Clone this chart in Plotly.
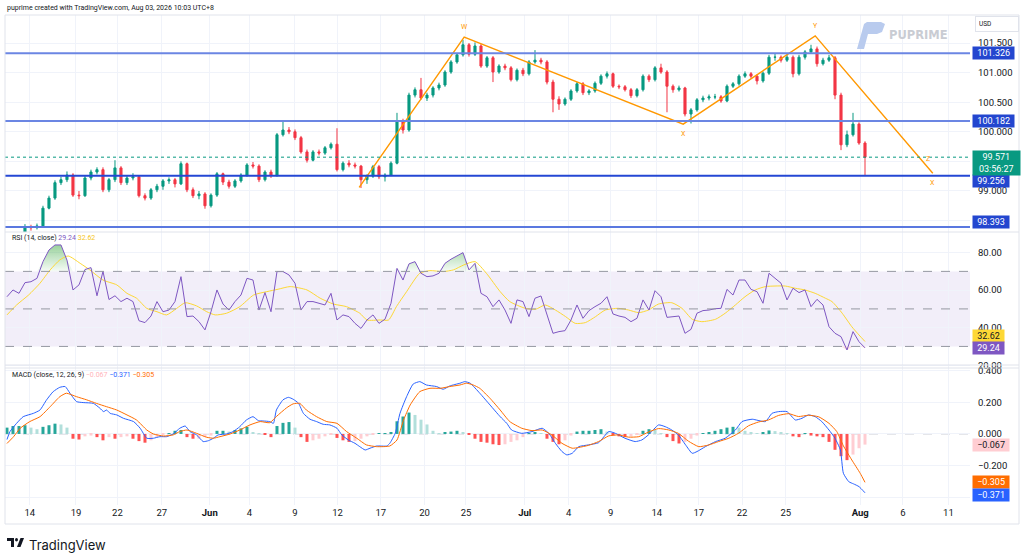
import numpy as np
import plotly.graph_objects as go

# ---- values (4h bars, bar 0 is at the left edge) ----
opens = [98.15, 98.18, 98.22, 98.27, 98.39, 98.38, 98.41, 98.71, 98.88, 99.14,
         99.19, 99.27, 98.93, 98.92, 99.22, 99.32, 99.36, 99.02, 99.19, 99.39,
         99.14, 99.22, 99.24, 98.92, 98.88, 99.02, 99.08, 99.17, 99.19, 99.12,
         99.46, 99.02, 98.92, 98.95, 98.75, 98.93, 99.29, 99.15, 99.08, 99.17,
         99.27, 99.44, 99.42, 99.19, 99.32, 99.27, 99.95, 100.03, 100.00, 99.90,
         99.66, 99.52, 99.66, 99.64, 99.73, 99.79, 99.36, 99.47, 99.44, 99.42,
         99.19, 99.25, 99.41, 99.24, 99.27, 99.47, 100.18, 100.03, 100.62, 100.71,
         100.57, 100.62, 100.74, 100.79, 101.01, 101.18, 101.30, 101.47, 101.31, 101.45,
         101.11, 101.25, 101.01, 101.11, 101.08, 100.88, 101.04, 100.98, 101.18, 101.21,
         101.18, 100.84, 100.55, 100.47, 100.55, 100.69, 100.81, 100.66, 100.69, 100.82,
         100.94, 100.98, 100.77, 100.76, 100.71, 100.61, 100.71, 100.94, 100.88, 101.08,
         101.01, 100.77, 100.71, 100.74, 100.30, 100.37, 100.54, 100.57, 100.59, 100.59,
         100.52, 100.77, 100.81, 100.94, 100.98, 100.94, 100.86, 100.99, 101.26, 101.26,
         101.21, 101.26, 100.98, 101.26, 101.35, 101.40, 101.15, 101.21, 101.25, 100.62,
         99.78, 99.95, 100.13, 99.81]
highs = [98.22, 98.26, 98.29, 98.44, 98.43, 98.45, 98.75, 98.92, 99.18, 99.24,
         99.33, 99.30, 99.00, 99.26, 99.36, 99.40, 99.40, 99.22, 99.52, 99.42,
         99.26, 99.30, 99.27, 98.96, 99.05, 99.12, 99.20, 99.23, 99.22, 99.50,
         99.48, 99.06, 99.00, 98.98, 98.96, 99.32, 99.31, 99.19, 99.20, 99.30,
         99.47, 99.49, 99.45, 99.35, 99.36, 99.98, 100.17, 100.08, 100.04, 99.93,
         99.70, 99.69, 99.70, 99.76, 99.82, 100.06, 99.50, 99.52, 99.48, 99.44,
         99.28, 99.44, 99.44, 99.30, 99.50, 100.32, 100.22, 100.66, 100.75, 100.91,
         100.66, 100.77, 100.83, 101.04, 101.21, 101.33, 101.55, 101.50, 101.51, 101.48,
         101.28, 101.28, 101.14, 101.15, 101.11, 101.07, 101.08, 101.21, 101.38, 101.25,
         101.21, 100.88, 100.60, 100.58, 100.72, 100.84, 100.84, 100.72, 100.85, 100.97,
         101.02, 101.00, 100.80, 100.79, 100.74, 100.74, 100.97, 100.97, 101.11, 101.15,
         101.04, 100.80, 100.78, 100.76, 100.40, 100.57, 100.61, 100.63, 100.64, 100.62,
         100.80, 100.84, 100.97, 101.02, 101.01, 100.97, 101.02, 101.30, 101.33, 101.29,
         101.31, 101.29, 101.30, 101.38, 101.47, 101.44, 101.25, 101.30, 101.28, 100.66,
         100.02, 100.32, 100.16, 99.84]
lows = [98.10, 98.14, 98.18, 98.25, 98.33, 98.35, 98.40, 98.69, 98.85, 99.10,
        99.15, 98.90, 98.86, 98.90, 99.18, 99.28, 98.98, 98.98, 99.15, 99.10,
        99.10, 99.18, 98.89, 98.84, 98.85, 98.98, 99.02, 99.12, 99.06, 99.10,
        98.98, 98.88, 98.86, 98.70, 98.72, 98.90, 99.10, 99.04, 99.05, 99.14,
        99.24, 99.38, 99.15, 99.16, 99.22, 99.24, 99.92, 99.96, 99.86, 99.63,
        99.48, 99.50, 99.60, 99.61, 99.70, 99.33, 99.33, 99.40, 99.38, 99.05,
        99.12, 99.22, 99.20, 99.16, 99.25, 99.45, 99.97, 100.00, 100.58, 100.54,
        100.52, 100.58, 100.70, 100.76, 100.98, 101.15, 101.27, 101.27, 101.28, 101.08,
        101.08, 100.84, 100.98, 101.04, 100.85, 100.85, 100.94, 100.95, 101.15, 101.14,
        100.80, 100.33, 100.37, 100.44, 100.52, 100.66, 100.62, 100.62, 100.66, 100.79,
        100.90, 100.74, 100.72, 100.68, 100.57, 100.58, 100.68, 100.84, 100.85, 100.98,
        100.33, 100.66, 100.68, 100.26, 100.14, 100.34, 100.50, 100.53, 100.55, 100.49,
        100.50, 100.74, 100.78, 100.91, 100.90, 100.80, 100.83, 100.96, 101.20, 101.17,
        101.18, 100.92, 100.95, 101.22, 101.32, 101.10, 101.12, 101.18, 100.55, 99.69,
        99.74, 99.92, 99.78, 99.27]
closes = [98.18, 98.22, 98.27, 98.39, 98.38, 98.41, 98.71, 98.88, 99.14, 99.19,
          99.27, 98.93, 98.92, 99.22, 99.32, 99.36, 99.02, 99.19, 99.39, 99.14,
          99.22, 99.24, 98.92, 98.88, 99.02, 99.08, 99.17, 99.19, 99.12, 99.46,
          99.02, 98.92, 98.95, 98.75, 98.93, 99.29, 99.15, 99.08, 99.17, 99.27,
          99.44, 99.42, 99.19, 99.32, 99.27, 99.95, 100.03, 100.00, 99.90, 99.66,
          99.52, 99.66, 99.64, 99.73, 99.79, 99.36, 99.47, 99.44, 99.42, 99.19,
          99.25, 99.41, 99.24, 99.27, 99.47, 100.18, 100.03, 100.62, 100.71, 100.57,
          100.62, 100.74, 100.79, 101.01, 101.18, 101.30, 101.47, 101.31, 101.45, 101.11,
          101.25, 101.01, 101.11, 101.08, 100.88, 101.04, 100.98, 101.18, 101.21, 101.18,
          100.84, 100.55, 100.47, 100.55, 100.69, 100.81, 100.66, 100.69, 100.82, 100.94,
          100.98, 100.77, 100.76, 100.71, 100.61, 100.71, 100.94, 100.88, 101.08, 101.01,
          100.77, 100.71, 100.74, 100.30, 100.37, 100.54, 100.57, 100.59, 100.59, 100.52,
          100.77, 100.81, 100.94, 100.98, 100.94, 100.86, 100.99, 101.26, 101.26, 101.21,
          101.26, 100.98, 101.26, 101.35, 101.40, 101.15, 101.21, 101.25, 100.62, 99.78,
          99.95, 100.13, 99.81, 99.571]

rsi = [56.5, 60.1, 58.3, 64.0, 64.5, 66.3, 75.2, 81.4, 84.1, 84.1,
       76.0, 60.1, 62.8, 71.0, 72.0, 57.0, 70.0, 55.0, 57.0, 53.9,
       55.7, 53.9, 43.7, 42.7, 46.2, 53.9, 48.5, 49.4, 53.9, 67.2,
       45.9, 46.2, 43.2, 38.8, 48.5, 60.1, 52.6, 49.4, 53.9, 57.4,
       66.3, 65.4, 49.4, 58.7, 48.5, 69.9, 69.9, 68.1, 63.7, 49.4,
       53.9, 53.9, 53.0, 52.1, 58.3, 44.1, 46.8, 45.9, 42.3, 39.6,
       44.1, 46.8, 42.3, 44.5, 53.0, 71.6, 65.4, 74.0, 75.2, 69.0,
       67.2, 67.6, 69.0, 74.3, 76.5, 78.2, 80.0, 70.8, 74.3, 58.3,
       56.5, 51.2, 54.8, 49.4, 42.3, 54.8, 53.9, 45.9, 55.7, 56.9,
       46.8, 37.0, 37.9, 38.4, 44.1, 52.1, 45.0, 49.1, 51.2, 53.0,
       56.5, 47.3, 46.2, 45.5, 43.2, 45.0, 54.8, 49.4, 59.7, 56.5,
       45.5, 45.9, 46.2, 37.0, 39.1, 47.7, 49.1, 49.4, 50.1, 50.3,
       60.4, 57.4, 65.4, 65.4, 60.4, 59.2, 53.0, 69.0, 66.3, 63.7,
       54.8, 61.0, 58.7, 60.1, 51.2, 55.1, 52.1, 40.5, 37.0, 35.2,
       28.1, 37.9, 32.5, 29.24]

# (bar, value) points of the smooth lines
rsi_ma_pts = [(0, 46.8), (1.6, 52.1), (3.6, 57.4), (5.5, 63.7), (7.2, 70.8), (8.8, 76.1),
              (10.2, 78.2), (12.2, 74.3), (13.8, 70.8), (16, 65.4), (18.3, 62.8), (20, 58.3),
              (21.6, 55.7), (23.3, 50.3), (25, 48.5), (26.6, 46.8), (28.3, 50.3), (29.7, 53.3),
              (31.6, 51.6), (33.3, 48.5), (34.7, 46.8), (36.6, 47.7), (38.8, 51.2), (41.1, 57.4),
              (43.3, 59.2), (45.2, 60.5), (47.2, 61.9), (50, 60.1), (52.2, 55.7), (54.4, 52.6),
              (56.6, 51.2), (58.8, 47.7), (60, 44.1), (62.2, 44.1), (63.6, 44.1), (64.9, 51.2),
              (66.6, 59.2), (68.8, 69.0), (70.5, 70.4), (72.7, 69.9), (74.4, 70.8), (76.1, 73.4),
              (78, 75.2), (79.9, 69.0), (82.2, 59.2), (83.8, 53.9), (86.4, 50.3), (88.1, 49.8),
              (89.7, 52.1), (91.4, 49.4), (93.1, 45.9), (94.7, 42.3), (96.4, 42.7), (98.1, 45.9),
              (99.7, 49.4), (101.9, 50.3), (103.6, 49.4), (105.3, 48.0), (106.9, 49.4), (108.6, 52.6),
              (110.8, 53.3), (112.5, 50.3), (114.2, 44.5), (115.8, 43.2), (118.1, 44.5), (119.7, 47.7),
              (121.4, 52.1), (123, 56.5), (124.7, 60.1), (126.4, 61.9), (128, 62.2), (129.7, 62.2),
              (131.4, 61.0), (133, 60.1), (134.7, 58.3), (136.4, 55.7), (137.5, 53.9), (139.2, 47.7),
              (140.8, 40.5), (142, 36.1), (143, 32.62)]

macd_pts = [(0, -0.035), (0.5, 0.015), (1.6, 0.067), (2.7, 0.109), (4.4, 0.130), (5.5, 0.151),
            (6.6, 0.215), (7.7, 0.267), (8.8, 0.294), (9.7, 0.299), (10.5, 0.257), (11.6, 0.204),
            (12.7, 0.198), (14.4, 0.193), (15.5, 0.162), (16.1, 0.141), (16.6, 0.151), (17.2, 0.130),
            (18.3, 0.120), (19.4, 0.099), (21.1, 0.078), (22.2, 0.036), (23.3, -0.027), (24.4, -0.027),
            (25.5, -0.017), (26.6, -0.017), (27.7, 0.0), (28.8, 0.036), (29.7, 0.050), (30.5, 0.015),
            (31.6, -0.006), (32.7, -0.048), (33.6, -0.042), (34.4, -0.027), (35.2, -0.006), (36.6, 0.0),
            (37.7, 0.015), (38.8, 0.046), (39.9, 0.088), (41, 0.109), (41.9, 0.084), (42.7, 0.082),
            (43.8, 0.078), (44.4, 0.067), (44.9, 0.151), (46, 0.215), (46.9, 0.231), (47.7, 0.219),
            (48.6, 0.193), (49.4, 0.130), (50.5, 0.093), (51.6, 0.078), (52.7, 0.061), (53.8, 0.057),
            (55, 0.036), (55.8, -0.006), (56.9, -0.038), (58, -0.059), (58.8, -0.080), (59.7, -0.101),
            (60.5, -0.090), (61.6, -0.076), (63.3, -0.076), (63.8, -0.059), (64.7, 0.004), (65.5, 0.130),
            (66.6, 0.235), (67.7, 0.315), (68.8, 0.330), (69.9, 0.309), (71.6, 0.299), (72.7, 0.282),
            (73.8, 0.303), (75.5, 0.320), (76.3, 0.330), (77.2, 0.320), (78.8, 0.257), (80.5, 0.183),
            (82.2, 0.109), (83.3, 0.067), (84.1, 0.025), (85.8, 0.004), (87.5, 0.015), (89.2, 0.036),
            (90.3, 0.004), (91.4, -0.059), (92.5, -0.111), (93.3, -0.132), (94.2, -0.122), (95.3, -0.080),
            (96.9, -0.069), (98.6, -0.055), (100.3, 0.015), (101.4, 0.004), (103, -0.027), (104.7, -0.048),
            (105.8, -0.038), (106.9, -0.006), (108.6, 0.057), (109.7, 0.046), (110.8, 0.025), (111.9, -0.006),
            (113.1, -0.069), (114.2, -0.122), (115, -0.111), (116.4, -0.080), (118.1, -0.048), (119.7, -0.027),
            (121.4, 0.025), (122.5, 0.078), (124.2, 0.093), (126.4, 0.078), (127.5, 0.130), (128.6, 0.141),
            (130, 0.141), (131.4, 0.088), (132.5, 0.099), (133.6, 0.120), (134.7, 0.109), (135.8, 0.078),
            (137, 0.025), (138, -0.027), (138.9, -0.101), (139.4, -0.248), (140.3, -0.301), (141.1, -0.315),
            (142, -0.332), (143, -0.371)]

signal_pts = [(0, -0.06), (1.1, -0.017), (2.2, 0.036), (3.8, 0.078), (5.5, 0.109), (7.2, 0.172),
              (8.8, 0.235), (9.9, 0.257), (11.6, 0.235), (13.3, 0.215), (14.9, 0.193), (16.6, 0.172),
              (18.3, 0.151), (20, 0.120), (21.6, 0.088), (23.3, 0.025), (24.4, 0.0), (26.1, -0.013),
              (27.7, -0.006), (28.8, 0.015), (30, 0.025), (31.6, 0.004), (33.3, -0.021), (34.4, -0.027),
              (35.5, -0.017), (37.2, 0.0), (38.8, 0.025), (40.5, 0.057), (42.2, 0.078), (43.8, 0.071),
              (44.9, 0.110), (46.6, 0.165), (47.7, 0.190), (48.8, 0.193), (49.9, 0.151), (51.6, 0.109),
              (53.3, 0.078), (55, 0.067), (56.6, 0.015), (58.3, -0.027), (59.9, -0.069), (61.6, -0.080),
              (63.8, -0.076), (65, -0.038), (66.1, 0.088), (67.2, 0.183), (68.8, 0.267), (70.5, 0.288),
              (72.2, 0.288), (73.8, 0.299), (75.5, 0.309), (76.6, 0.320), (77.7, 0.309), (78.8, 0.288),
              (80.5, 0.225), (82.2, 0.151), (83.8, 0.078), (85.8, 0.036), (87.5, 0.021), (89.2, 0.025),
              (90.8, -0.006), (92.5, -0.059), (94.2, -0.090), (95.3, -0.085), (96.9, -0.072), (98.6, -0.048),
              (100.3, -0.012), (101.9, -0.006), (103.6, -0.020), (105.3, -0.017), (106.9, 0.012), (108.6, 0.034),
              (110.3, 0.025), (111.9, 0.004), (113.6, -0.046), (115.3, -0.080), (116.9, -0.070), (118.6, -0.048),
              (120.3, -0.027), (121.9, 0.004), (123.6, 0.052), (125.3, 0.076), (126.9, 0.088), (128.6, 0.117),
              (130.3, 0.128), (131.9, 0.110), (133.6, 0.118), (135.3, 0.108), (137, 0.067), (138.3, 0.015),
              (139.4, -0.075), (140.8, -0.164), (142.2, -0.248), (143, -0.305)]

hist = [0.04, 0.05, 0.05, 0.055, 0.04, 0.03, 0.045, 0.055, 0.065, 0.06,
        0.04, -0.03, -0.035, -0.015, -0.01, -0.02, -0.04, -0.02, -0.03, -0.02,
        -0.015, -0.03, -0.045, -0.055, -0.04, -0.02, -0.005, 0.003, 0.02, 0.025,
        -0.02, -0.03, -0.03, -0.02, -0.01, 0.02, 0.02, 0.015, 0.025, 0.035,
        0.045, 0.01, 0.004, -0.005, -0.02, 0.05, 0.07, 0.075, 0.04, -0.02,
        -0.05, -0.04, -0.03, -0.015, -0.005, -0.025, -0.04, -0.05, -0.045, -0.03,
        -0.015, -0.005, 0.003, 0.005, 0.01, 0.08, 0.11, 0.135, 0.12, 0.09,
        0.06, 0.02, 0.005, 0.012, 0.015, 0.02, 0.01, -0.005, -0.03, -0.05,
        -0.055, -0.065, -0.07, -0.065, -0.05, -0.04, -0.02, 0.005, 0.01, 0.005,
        -0.03, -0.05, -0.065, -0.04, -0.01, 0.015, 0.02, 0.02, 0.025, 0.03,
        0.015, -0.01, -0.015, -0.02, -0.015, -0.005, 0.02, 0.03, 0.025, 0.005,
        -0.02, -0.045, -0.06, -0.05, -0.03, -0.01, 0.005, 0.01, 0.02, 0.03,
        0.04, 0.045, 0.04, 0.02, 0.01, 0.005, 0.012, 0.022, 0.018, 0.008,
        0.005, -0.015, -0.02, 0.005, -0.01, -0.015, -0.02, -0.05, -0.1, -0.14,
        -0.165, -0.13, -0.09, -0.067]

levels = [101.326, 100.182, 99.256, 98.393]
last_price = 99.571
countdown = "03:56:27"
rsi_last, rsi_ma_last = 29.24, 32.62
macd_last, signal_last, hist_last = -0.371, -0.305, -0.067

# zigzag (W-X-Y-X) drawn on the chart
zz_bar = [58.7, 76.2, 112.7, 134.7, 154.3]
zz_price = [99.06, 101.60, 100.13, 101.62, 99.30]
zz_labels = ["W", "X", "Y", "Z", "X"]
zz_label_bar = [76.2, 112.7, 134.7, 153.5, 154.3]
zz_label_price = [101.77, 99.96, 101.79, 99.54, 99.13]

tick_bar = [3.8, 11.5, 18.4, 25.8, 33.8, 40.4, 48.0, 55.1, 62.3, 69.6, 76.5,
            86.3, 93.6, 100.6, 108.3, 115.3, 122.5, 129.8, 142.2, 149.3, 156.9]
tick_text = ["14", "19", "22", "27", "<b>Jun</b>", "4", "9", "12", "17", "20", "25",
             "<b>Jul</b>", "4", "9", "14", "17", "22", "25", "<b>Aug</b>", "6", "11"]

# ---- layout helpers (pixel -> paper) ----
W, H = 1024, 558
ML, MR, MT, MB = 5, 54, 15, 53
PW, PH = W - ML - MR, H - MT - MB


def fx(px):
    return (px - ML) / PW


def fy(py):
    return (H - MB - py) / PH


UP, DN = "#089981", "#f23645"
GRID = "#f0f3fa"
TXT = "#131722"
FONT = "Roboto"
bar = np.arange(len(closes))

fig = go.Figure()

# price pane
fig.add_trace(go.Candlestick(
    x=bar, open=opens, high=highs, low=lows, close=closes,
    increasing=dict(line=dict(color=UP, width=1), fillcolor=UP),
    decreasing=dict(line=dict(color=DN, width=1), fillcolor=DN),
    whiskerwidth=0, hoverinfo="skip", xaxis="x", yaxis="y"))
fig.add_trace(go.Scatter(x=zz_bar, y=zz_price, mode="lines",
                         line=dict(color="#ff9800", width=1.4), xaxis="x", yaxis="y"))

# RSI pane (overbought / oversold fills fade towards the 70 / 30 lines)
rsi_arr = np.array(rsi)
fig.add_trace(go.Scatter(x=bar, y=np.full(len(bar), 70.0), mode="lines",
                         line=dict(width=0), xaxis="x2", yaxis="y2"))
fig.add_trace(go.Scatter(x=bar, y=np.maximum(rsi_arr, 70), mode="lines", line=dict(width=0),
                         fill="tonexty",
                         fillgradient=dict(type="vertical", start=70, stop=85,
                                           colorscale=[[0, "rgba(76,175,80,0.05)"],
                                                       [1, "rgba(76,175,80,0.6)"]]),
                         xaxis="x2", yaxis="y2"))
fig.add_trace(go.Scatter(x=bar, y=np.full(len(bar), 30.0), mode="lines",
                         line=dict(width=0), xaxis="x2", yaxis="y2"))
fig.add_trace(go.Scatter(x=bar, y=np.minimum(rsi_arr, 30), mode="lines", line=dict(width=0),
                         fill="tonexty", fillcolor="rgba(242,54,69,0.15)", xaxis="x2", yaxis="y2"))
fig.add_trace(go.Scatter(x=[p[0] for p in rsi_ma_pts], y=[p[1] for p in rsi_ma_pts], mode="lines",
                         line=dict(color="#fdd835", width=1, shape="spline", smoothing=0.6),
                         xaxis="x2", yaxis="y2"))
fig.add_trace(go.Scatter(x=bar, y=rsi, mode="lines", line=dict(color="#7e57c2", width=1),
                         xaxis="x2", yaxis="y2"))

# MACD pane
hist_colors = []
for k, h in enumerate(hist):
    prev = hist[k - 1] if k else h
    if h >= 0:
        hist_colors.append("#26a69a" if h >= prev else "#b2dfdb")
    else:
        hist_colors.append("#ffcdd2" if h >= prev else "#ff5252")
fig.add_trace(go.Bar(x=bar, y=hist, marker=dict(color=hist_colors, line=dict(width=0)),
                     width=0.5, xaxis="x3", yaxis="y3"))
fig.add_trace(go.Scatter(x=[p[0] for p in macd_pts], y=[p[1] for p in macd_pts], mode="lines",
                         line=dict(color="#2962ff", width=1, shape="spline", smoothing=0.5),
                         xaxis="x3", yaxis="y3"))
fig.add_trace(go.Scatter(x=[p[0] for p in signal_pts], y=[p[1] for p in signal_pts], mode="lines",
                         line=dict(color="#ff6d00", width=1, shape="spline", smoothing=0.5),
                         xaxis="x3", yaxis="y3"))

# ---- shapes ----
shapes = []
level_line = ["#6b86e3", "#6b86e3", "#2447d4", "#5a78e0"]
for lv, col in zip(levels, level_line):
    shapes.append(dict(type="line", xref="paper", yref="y", x0=0, x1=1, y0=lv, y1=lv,
                       line=dict(color=col, width=2)))
shapes.append(dict(type="line", xref="paper", yref="y", x0=0, x1=1, y0=last_price, y1=last_price,
                   line=dict(color=UP, width=1, dash="dot")))
shapes.append(dict(type="rect", xref="paper", yref="y2", x0=0, x1=1, y0=30, y1=70,
                   fillcolor="rgba(126,87,194,0.10)", line=dict(width=0), layer="below"))
for lv in (70, 50, 30):
    shapes.append(dict(type="line", xref="paper", yref="y2", x0=0, x1=1, y0=lv, y1=lv,
                       line=dict(color="#9598a1", width=1, dash="dash")))
shapes.append(dict(type="line", xref="paper", yref="y3", x0=0, x1=1, y0=0, y1=0,
                   line=dict(color="#c5c8d0", width=1, dash="dash"), layer="below"))
# pane separators and border
for py in (232, 365, 368):
    shapes.append(dict(type="line", xref="paper", yref="paper", x0=fx(5), x1=fx(1019),
                       y0=fy(py), y1=fy(py), line=dict(color="#e0e3eb", width=1)))
shapes.append(dict(type="rect", xref="paper", yref="paper", x0=fx(5), x1=fx(1019),
                   y0=fy(524), y1=fy(15), line=dict(color="#e0e3eb", width=1)))
# PUPRIME watermark logo
logo = [(857, 49), (864, 24), (867, 22), (881, 22), (885, 24), (882, 32), (877, 34), (868, 34), (864, 49)]
path = "M " + " L ".join(f"{fx(a):.5f} {fy(b):.5f}" for a, b in logo) + " Z"
shapes.append(dict(type="path", xref="paper", yref="paper", path=path,
                   fillcolor="#b9cbee", line=dict(width=0)))
# TradingView logo
shapes.append(dict(type="rect", xref="paper", yref="paper", x0=fx(7), x1=fx(14), y0=fy(541), y1=fy(538),
                   fillcolor=TXT, line=dict(width=0)))
shapes.append(dict(type="rect", xref="paper", yref="paper", x0=fx(11), x1=fx(14), y0=fy(547), y1=fy(538),
                   fillcolor=TXT, line=dict(width=0)))
shapes.append(dict(type="circle", xref="paper", yref="paper", x0=fx(15), x1=fx(18), y0=fy(541.5), y1=fy(538),
                   fillcolor=TXT, line=dict(width=0)))
tvp = [(17, 547), (20.5, 538), (24, 538), (20.5, 547)]
shapes.append(dict(type="path", xref="paper", yref="paper",
                   path="M " + " L ".join(f"{fx(a):.5f} {fy(b):.5f}" for a, b in tvp) + " Z",
                   fillcolor=TXT, line=dict(width=0)))

# ---- annotations ----
ann = []


def tag(y, yref, text, bg, fg="white", yanchor="middle", yshift=0, chars=None):
    n = chars if chars else len(text)
    ann.append(dict(x=1, xref="paper", y=y, yref=yref, xanchor="left", yanchor=yanchor,
                    xshift=2, yshift=yshift, text=text, showarrow=False, bgcolor=bg,
                    width=5.2 * n + 3, align="center", borderpad=1,
                    font=dict(color=fg, size=9, family=FONT)))


level_shift = [0, 0, -5.5, 5]
for lv, sh in zip(levels, level_shift):
    tag(lv, "y", f"{lv:.3f}", "#2346cf", yshift=sh)
tag(last_price, "y", f"{last_price:.3f}<br>{countdown}", UP, yanchor="top", yshift=7, chars=8)
tag(rsi_ma_last, "y2", f"{rsi_ma_last:.2f}", "#fdd835", fg=TXT, yshift=6)
tag(rsi_last, "y2", f"{rsi_last:.2f}", "#7e57c2")
tag(hist_last, "y3", f"{hist_last:.3f}".replace("-", "−"), "#ffcdd2", fg=TXT)
tag(signal_last, "y3", f"{signal_last:.3f}".replace("-", "−"), "#ff6d00")
tag(macd_last, "y3", f"{macd_last:.3f}".replace("-", "−"), "#2962ff", yshift=-2)

for t, xb, yp in zip(zz_labels, zz_label_bar, zz_label_price):
    ann.append(dict(x=xb, y=yp, xref="x", yref="y", text=t, showarrow=False,
                    font=dict(color="#ff9800", size=7, family=FONT)))

ann.append(dict(x=fx(5), y=fy(8), xref="paper", yref="paper", xanchor="left", yanchor="middle",
                text="puprime created with TradingView.com, Aug 03, 2026 10:03 UTC+8", showarrow=False,
                font=dict(color=TXT, size=7, family=FONT)))
ann.append(dict(x=fx(10), y=fy(238), xref="paper", yref="paper", xanchor="left", yanchor="middle",
                text=("RSI (14, close) <span style='color:#7e57c2'>%.2f</span> "
                      "<span style='color:#f5c518'>%.2f</span>" % (rsi_last, rsi_ma_last)),
                showarrow=False, font=dict(color=TXT, size=7, family=FONT)))
ann.append(dict(x=fx(10), y=fy(375), xref="paper", yref="paper", xanchor="left", yanchor="middle",
                text=("MACD (close, 12, 26, 9) <span style='color:#ffb3ba'>−0.067</span> "
                      "<span style='color:#2962ff'>−0.371</span> <span style='color:#ff6d00'>−0.305</span>"),
                showarrow=False, font=dict(color=TXT, size=7, family=FONT)))
ann.append(dict(x=fx(975), y=fy(24), xref="paper", yref="paper", xanchor="left", yanchor="middle",
                text="USD", showarrow=False, width=36, align="left", borderpad=3,
                bordercolor="#e0e3eb", borderwidth=1, font=dict(color=TXT, size=6.5, family=FONT)))
ann.append(dict(x=fx(887), y=fy(35), xref="paper", yref="paper", xanchor="left", yanchor="middle",
                text="<b>PUPRIME</b>", showarrow=False,
                font=dict(color="#c9ccd3", size=11.5, family="DejaVu Sans")))
ann.append(dict(x=fx(27), y=fy(545), xref="paper", yref="paper", xanchor="left", yanchor="middle",
                text="TradingView", showarrow=False, font=dict(color=TXT, size=13, family="Inter")))

xcommon = dict(range=[-0.33, 160.5], tickvals=tick_bar, ticktext=tick_text, showgrid=True,
               gridcolor=GRID, zeroline=False, showline=False, ticks="")
ycommon = dict(side="right", gridcolor=GRID, zeroline=False, showline=False, ticks="",
               ticklabelstandoff=7, tickfont=dict(size=9.5, color=TXT))

fig.update_layout(
    width=W, height=H, margin=dict(l=ML, r=MR, t=MT, b=MB),
    paper_bgcolor="white", plot_bgcolor="white", showlegend=False, hovermode=False,
    boxgap=0.5,
    font=dict(family=FONT, size=9.5, color=TXT),
    xaxis=dict(**xcommon, anchor="y", showticklabels=False, rangeslider=dict(visible=False)),
    xaxis2=dict(**xcommon, anchor="y2", matches="x", showticklabels=False),
    xaxis3=dict(**xcommon, anchor="y3", matches="x", showticklabels=True,
                tickfont=dict(size=9.5, color=TXT)),
    yaxis=dict(**ycommon, domain=[fy(232), 1], range=[98.307, 101.973],
               tickvals=[98.5, 99.0, 99.5, 100.0, 100.5, 101.0, 101.5],
               ticktext=["", "99.000", "", "100.000", "100.500", "101.000", "101.500"]),
    yaxis2=dict(**ycommon, domain=[fy(368), fy(232)], range=[18.5, 91.0],
                tickvals=[20, 40, 60, 80], ticktext=["20.00", "40.00", "60.00", "80.00"]),
    yaxis3=dict(**ycommon, domain=[0, fy(368)], range=[-0.448, 0.416],
                tickvals=[-0.4, -0.2, 0.0, 0.2, 0.4], ticktext=["", "−0.200", "0.000", "0.200", "0.400"]),
    shapes=shapes, annotations=ann,
)

# the page body has a default margin; remove it so the figure sits at the window's corner
fig.write_html("out.html", config={"displayModeBar": False},
               post_script="document.body.style.margin='0';document.body.style.overflow='hidden';")
